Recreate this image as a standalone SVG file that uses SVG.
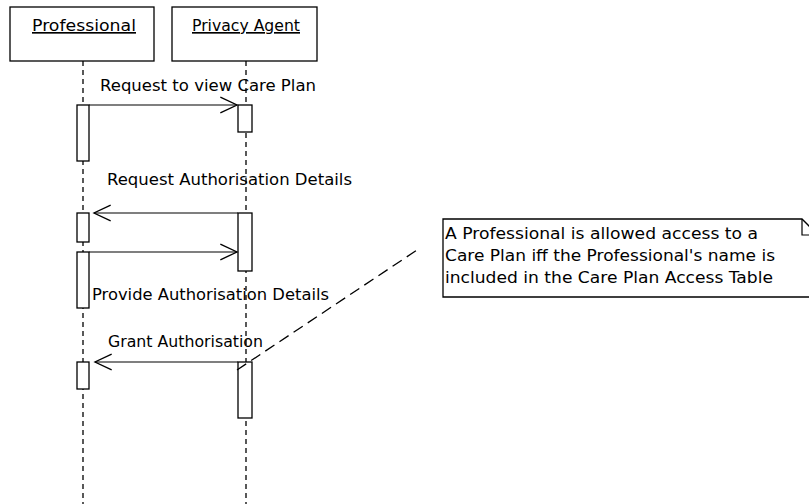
<svg xmlns="http://www.w3.org/2000/svg" width="809" height="504" viewBox="0 0 809 504">
<defs>
<style>
text{font-family:"DejaVu Sans","Liberation Sans",sans-serif;font-size:16.5px;fill:#000}
.box{fill:#fff;stroke:#000;stroke-width:1.3}
.life{stroke:#000;stroke-width:1.3;stroke-dasharray:5 4;fill:none}
.act{fill:#fff;stroke:#000;stroke-width:1.3}
.msg{stroke:#000;stroke-width:1.2;fill:none;marker-end:url(#open)}
.link{stroke:#000;stroke-width:1.3;stroke-dasharray:11 6;fill:none}
.u{text-decoration:underline}
</style>
<marker id="open" markerUnits="userSpaceOnUse" markerWidth="20" markerHeight="20" viewBox="-16 -9 18 18" refX="0" refY="0" orient="auto" overflow="visible">
<path d="M-15,-7 L0,0 L-15,7" fill="none" stroke="#000" stroke-width="1.2"/>
</marker>
</defs>
<rect width="809" height="504" fill="#fff"/>
<g id="professional">
<line class="life" x1="83" y1="61" x2="83" y2="504"/>
<rect class="box" x="10" y="7" width="144" height="54"/>
<text class="u" x="32" y="31" textLength="104" lengthAdjust="spacingAndGlyphs">Professional</text>
<rect class="act" x="77" y="105" width="12" height="56"/>
<rect class="act" x="77" y="213" width="12" height="29"/>
<rect class="act" x="77" y="252" width="12" height="56"/>
<rect class="act" x="77" y="362" width="12" height="27"/>
</g>
<g id="privacy-agent">
<line class="life" x1="246" y1="61" x2="246" y2="504"/>
<rect class="box" x="172" y="7" width="145" height="54"/>
<text class="u" x="192" y="31" textLength="108" lengthAdjust="spacingAndGlyphs">Privacy Agent</text>
<rect class="act" x="238" y="105" width="14" height="27"/>
<rect class="act" x="238" y="213" width="14" height="58"/>
<rect class="act" x="238" y="362" width="14" height="56"/>
</g>
<g id="note">
<path class="box" d="M443,219 H802 L818,235 V297 H443 Z"/>
<path d="M802,219 V235 H818" fill="none" stroke="#000" stroke-width="1.2"/>
<text x="445" y="239" textLength="313" lengthAdjust="spacingAndGlyphs">A Professional is allowed access to a</text>
<text x="445" y="261" textLength="330" lengthAdjust="spacingAndGlyphs">Care Plan iff the Professional's name is</text>
<text x="445" y="283" textLength="328" lengthAdjust="spacingAndGlyphs">included in the Care Plan Access Table</text>
</g>
<g id="connectors">
<line class="msg" x1="89" y1="105" x2="237" y2="105"/>
<text x="100" y="91" textLength="216" lengthAdjust="spacingAndGlyphs">Request to view Care Plan</text>
<line class="msg" x1="238" y1="213" x2="94" y2="213"/>
<text x="107" y="185" textLength="245" lengthAdjust="spacingAndGlyphs">Request Authorisation Details</text>
<line class="msg" x1="89" y1="252" x2="237" y2="252"/>
<text x="92" y="300" textLength="237" lengthAdjust="spacingAndGlyphs">Provide Authorisation Details</text>
<line class="msg" x1="238" y1="362" x2="95" y2="362"/>
<text x="108" y="347" textLength="155" lengthAdjust="spacingAndGlyphs">Grant Authorisation</text>
<line class="link" x1="237" y1="370" x2="420" y2="248"/>
</g>
</svg>
